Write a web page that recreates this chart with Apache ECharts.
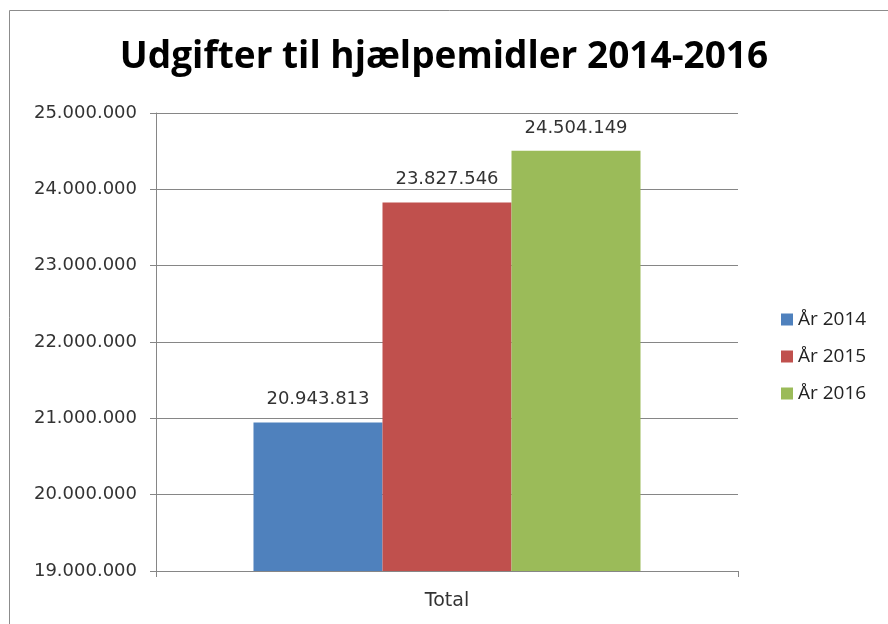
<!DOCTYPE html>
<html>
<head>
<meta charset="utf-8">
<script src="https://cdn.jsdelivr.net/npm/echarts@6/dist/echarts.min.js"></script>
<style>
  html, body { margin: 0; padding: 0; background: #fff; }
  #chart { width: 888px; height: 624px; }
</style>
</head>
<body>
<div id="chart"></div>
<script>
  var categories = ['Total']
  var seriesNames = ['År 2014', 'År 2015', 'År 2016']
  var seriesValues = [[20943813], [23827546], [24504149]]
  var colors = ['#4f81bd', '#c0504d', '#9bbb59']

  function fmt(v) {
    return String(Math.round(v)).replace(/\B(?=(\d{3})+(?!\d))/g, '.')
  }

  var myChart = echarts.init(document.getElementById('chart'))

  var series = seriesNames.map(function (name, i) {
    return {
      name: name,
      type: 'bar',
      data: seriesValues[i],
      barGap: '0%',
      barCategoryGap: '33.5%',
      itemStyle: { color: colors[i] },
      label: {
        show: true,
        position: 'top',
        distance: 14,
        formatter: function (p) { return fmt(p.value) },
        fontFamily: 'DejaVu Sans',
        fontSize: 18,
        color: '#333'
      }
    }
  })

  var option = {
    animation: false,
    backgroundColor: '#fff',
    title: {
      text: 'Udgifter til hjælpemidler 2014-2016',
      left: 'center',
      top: 34,
      textStyle: {
        fontFamily: 'Open Sans',
        fontWeight: 'bold',
        fontSize: 37,
        color: '#000'
      }
    },
    graphic: [{
      type: 'rect',
      shape: { x: 9.5, y: 10.5, width: 900, height: 640 },
      style: { fill: 'none', stroke: '#8c8c8c', lineWidth: 1 },
      silent: true
    }],
    legend: {
      orient: 'vertical',
      left: 776,
      top: 305,
      itemWidth: 12,
      itemHeight: 12,
      itemGap: 18,
      icon: 'rect',
      textStyle: { fontFamily: 'Open Sans', fontSize: 19, color: '#222' },
      data: seriesNames
    },
    grid: {
      left: 156,
      right: 150,
      top: 113,
      bottom: 53
    },
    xAxis: {
      type: 'category',
      data: categories,
      axisLine: { lineStyle: { color: '#868686' } },
      axisTick: { show: true, length: 6, lineStyle: { color: '#868686' } },
      axisLabel: { fontFamily: 'DejaVu Sans', fontSize: 19, color: '#333', margin: 21 }
    },
    yAxis: {
      type: 'value',
      min: 19000000,
      max: 25000000,
      interval: 1000000,
      axisLine: { show: true, lineStyle: { color: '#868686' } },
      axisTick: { show: true, length: 6, lineStyle: { color: '#868686' } },
      splitLine: { lineStyle: { color: '#868686' } },
      axisLabel: {
        fontFamily: 'DejaVu Sans',
        fontSize: 18,
        color: '#333',
        margin: 19,
        formatter: fmt
      }
    },
    series: series
  }

  myChart.setOption(option)
</script>
</body>
</html>
